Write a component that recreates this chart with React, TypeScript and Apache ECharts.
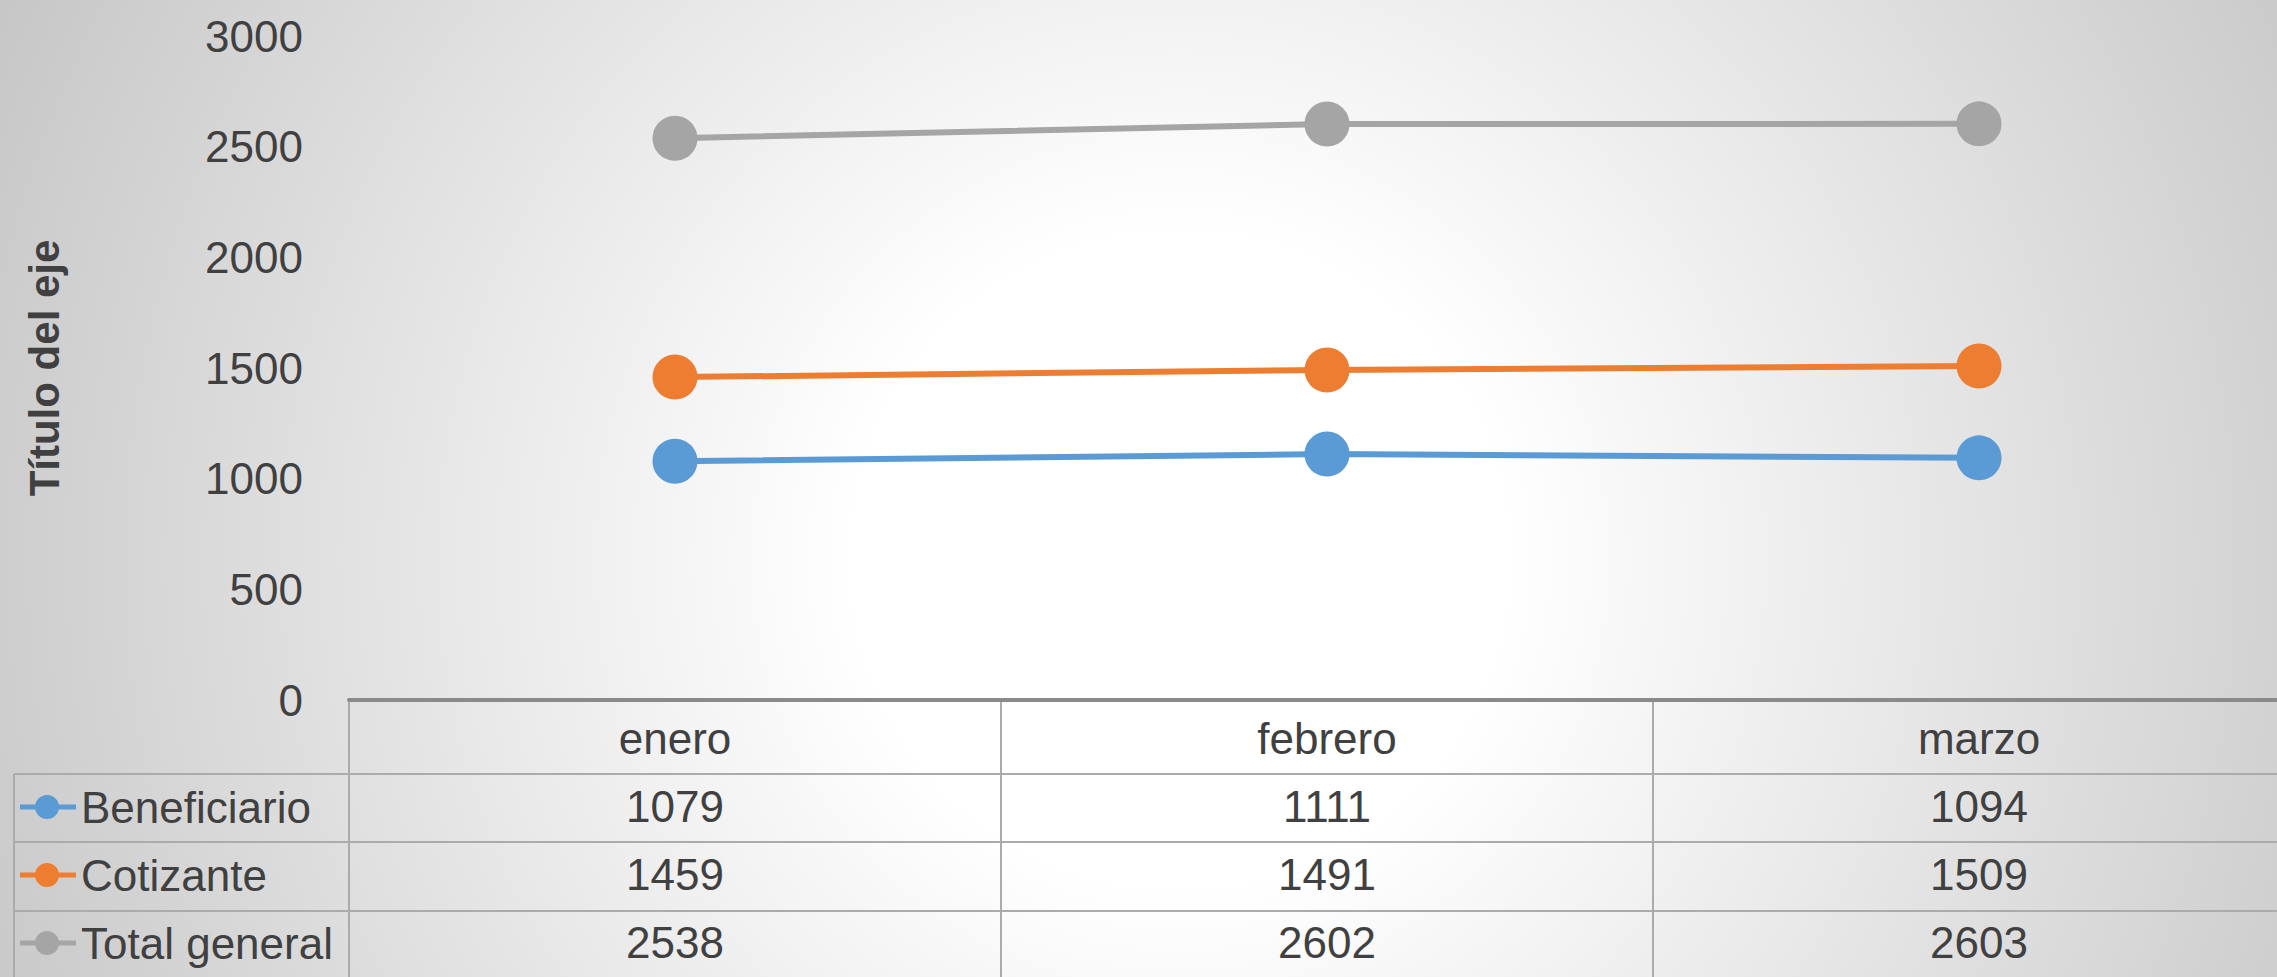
import React, { useEffect, useRef } from "react";
import * as echarts from "echarts";

const categories = ["enero", "febrero", "marzo"];
const beneficiario = [1079, 1111, 1094];
const cotizante = [1459, 1491, 1509];
const totalGeneral = [2538, 2602, 2603];
const seriesNames = ["Beneficiario", "Cotizante", "Total general"];
const seriesColors = ["#5B9BD5", "#ED7D31", "#A5A5A5"];
const yTicks = { min: 0, max: 3000, interval: 500 };
const axisTitle = "Título del eje";

const W = 2277;
const H = 977;
const FONT = "'Liberation Sans', Arial, sans-serif";
const TEXT = "#404040";
const GRID_LINE = "#ababab";
const LEGEND_ICON =
  "path://M0,13 h56 v5 h-56 z M39,15.5 a12,12 0 1,1 -24,0 a12,12 0 1,1 24,0 z";

export default function App() {
  const ref = useRef<HTMLDivElement>(null);
  useEffect(() => {
    document.body.style.margin = "0";
    const el = ref.current!;
    const chart = echarts.init(el, null, { renderer: "svg" });
    const allData = [beneficiario, cotizante, totalGeneral];
    const option: any = {
      animation: false,
      backgroundColor: "transparent",
      textStyle: { fontFamily: FONT },
      grid: {
        left: 349,
        top: 36,
        width: 1956,
        height: 664,
        containLabel: false,
        outerBoundsMode: "none",
      },
      legend: {
        orient: "vertical",
        left: 20,
        top: 785,
        padding: 0,
        itemWidth: 56,
        itemHeight: 24,
        itemGap: 24,
        selectedMode: false,
        icon: LEGEND_ICON,
        data: seriesNames,
        textStyle: { fontSize: 44, color: TEXT, fontFamily: FONT, lineHeight: 44 },
      },
      xAxis: {
        type: "category",
        data: categories,
        boundaryGap: true,
        axisLine: { show: true, lineStyle: { color: "#8a8a8a", width: 4 } },
        axisTick: { show: false },
        splitLine: { show: false },
        axisLabel: {
          margin: 4,
          fontSize: 44,
          color: TEXT,
          fontFamily: FONT,
          lineHeight: 68,
          interval: 0,
          formatter: (v: string, i: number) =>
            [v, beneficiario[i], cotizante[i], totalGeneral[i]].join("\n"),
        },
      },
      yAxis: {
        type: "value",
        min: yTicks.min,
        max: yTicks.max,
        interval: yTicks.interval,
        axisLine: { show: false },
        axisTick: { show: false },
        splitLine: { show: false },
        axisLabel: {
          fontSize: 44,
          color: TEXT,
          margin: 46,
          fontFamily: FONT,
          formatter: (v: number) => String(v),
        },
        name: axisTitle,
        nameLocation: "middle",
        nameRotate: 90,
        nameGap: 284,
        nameTextStyle: { fontSize: 42, fontWeight: "bold", color: TEXT, fontFamily: FONT },
      },
      series: seriesNames.map((name, i) => ({
        name,
        type: "line",
        data: allData[i],
        symbol: "circle",
        symbolSize: 45,
        color: seriesColors[i],
        lineStyle: { width: 6, color: seriesColors[i] },
        itemStyle: { color: seriesColors[i] },
      })),
    };
    chart.setOption(option);

    const xs = categories.map((c) => chart.convertToPixel({ xAxisIndex: 0 }, c) as number);
    const band = xs[1] - xs[0];
    const bounds = [xs[0] - band / 2, ...xs.map((x) => x + band / 2)];
    const axisY = chart.convertToPixel({ yAxisIndex: 0 }, 0) as number;
    const rowLines = [774, 842, 911];
    const lineStyle = { stroke: GRID_LINE, lineWidth: 2 };
    const graphics: any[] = [];
    bounds.forEach((bx) => {
      graphics.push({
        type: "line",
        silent: true,
        shape: { x1: bx, y1: axisY + 2, x2: bx, y2: H },
        style: lineStyle,
      });
    });
    graphics.push({
      type: "line",
      silent: true,
      shape: { x1: 14, y1: rowLines[0], x2: 14, y2: H },
      style: lineStyle,
    });
    rowLines.forEach((y) => {
      graphics.push({
        type: "line",
        silent: true,
        shape: { x1: 14, y1: y, x2: W, y2: y },
        style: lineStyle,
      });
    });
    chart.setOption({ graphic: graphics });

    return () => chart.dispose();
  }, []);
  return (
    <div
      ref={ref}
      style={{
        width: W,
        height: H,
        background:
          "radial-gradient(circle 1350px at 1180px 560px, #ffffff 0%, #ffffff 24%, #c4c4c4 100%)",
      }}
    />
  );
}
